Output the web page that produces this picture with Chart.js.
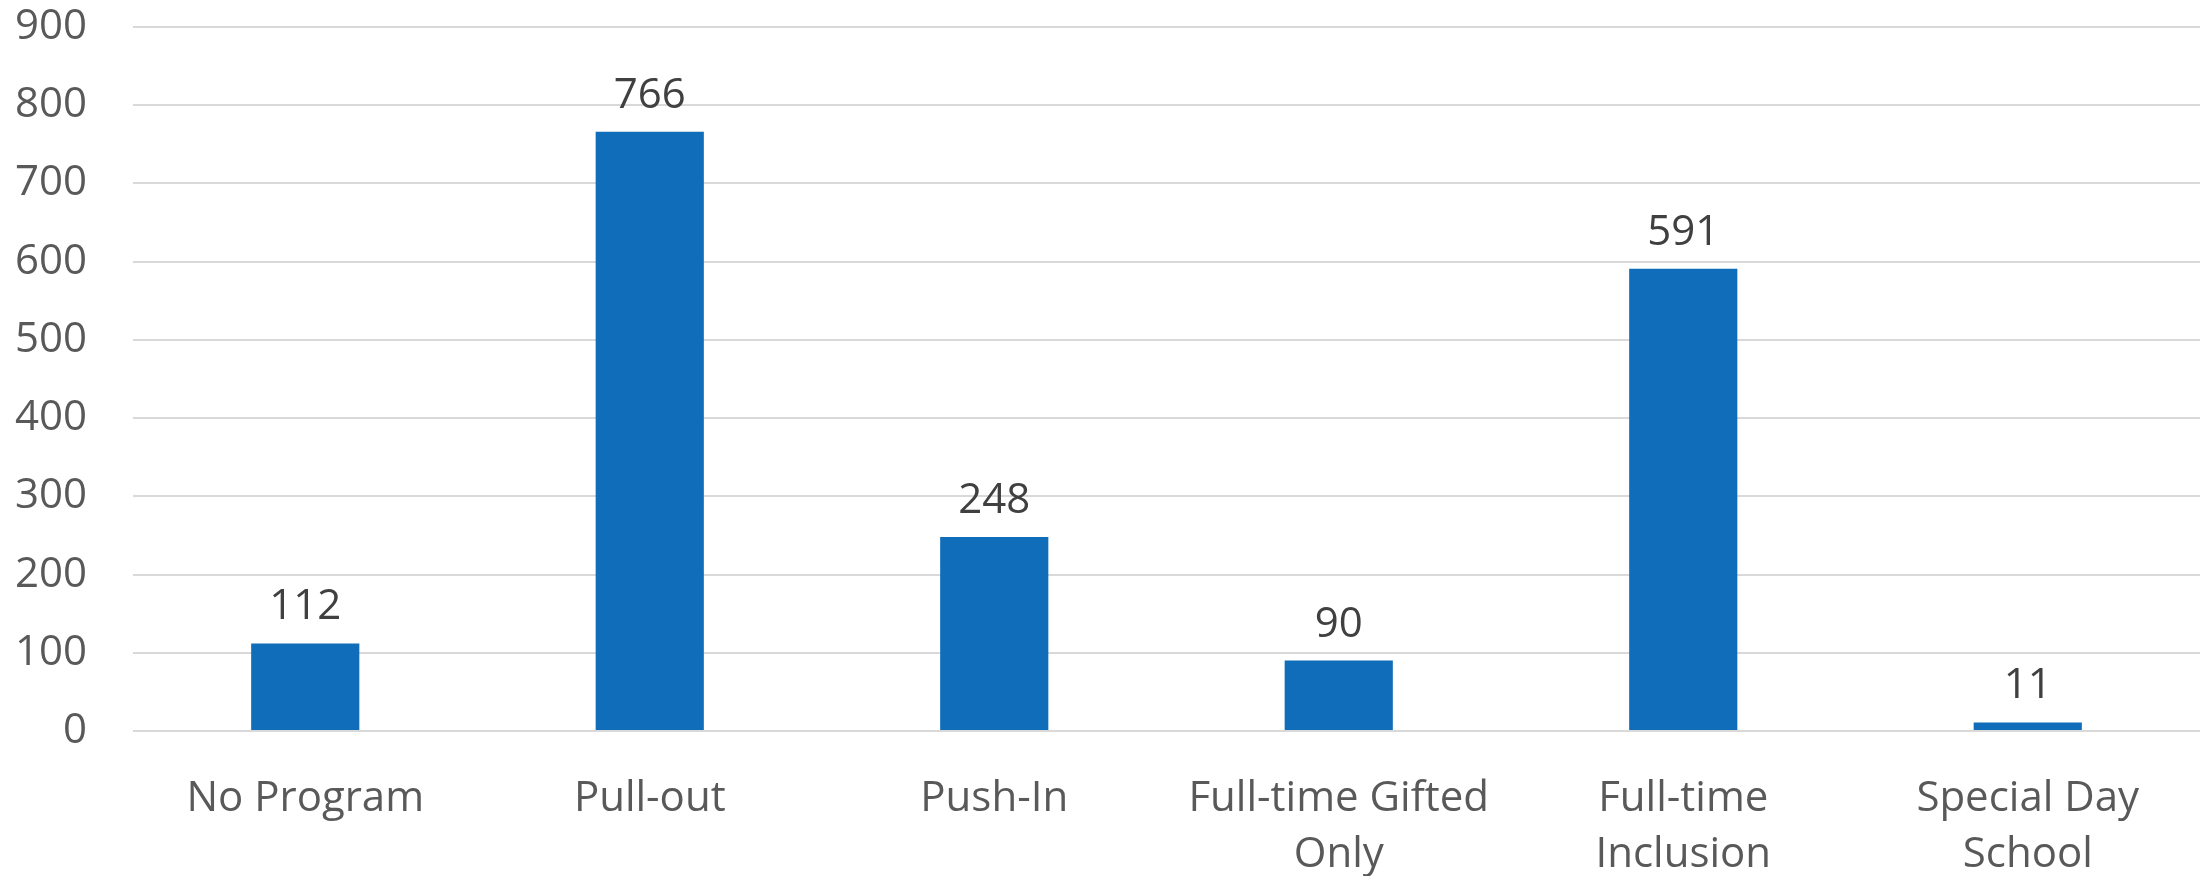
<!DOCTYPE html>
<html>
<head>
<meta charset="utf-8">
<script src="https://cdn.jsdelivr.net/npm/chart.js@4/dist/chart.umd.min.js"></script>
<style>
  html, body { margin: 0; padding: 0; background: #ffffff; }
  #wrap { width: 2204px; height: 876px; }
</style>
</head>
<body>
<div id="wrap"><canvas id="c" width="2204" height="876"></canvas></div>
<script>
const categories = [
  ["No Program"],
  ["Pull-out"],
  ["Push-In"],
  ["Full-time Gifted", "Only"],
  ["Full-time", "Inclusion"],
  ["Special Day", "School"]
];
const values = [112, 766, 248, 90, 591, 11];
const yTicks = [0, 100, 200, 300, 400, 500, 600, 700, 800, 900];

const FONT = "'Open Sans', 'Noto Sans', sans-serif";

const dataLabels = {
  id: 'dataLabels',
  afterDatasetsDraw(chart) {
    const ctx = chart.ctx;
    const meta = chart.getDatasetMeta(0);
    ctx.save();
    ctx.font = "42px " + FONT;
    ctx.fillStyle = '#404040';
    ctx.textAlign = 'center';
    ctx.textBaseline = 'alphabetic';
    meta.data.forEach((bar, i) => {
      ctx.fillText(String(values[i]), bar.x, bar.y - 24);
    });
    ctx.restore();
  }
};

new Chart(document.getElementById('c'), {
  type: 'bar',
  data: {
    labels: categories,
    datasets: [{
      data: values,
      backgroundColor: '#0F6DB9',
      borderWidth: 0,
      categoryPercentage: 1.0,
      barPercentage: 0.314
    }]
  },
  options: {
    responsive: false,
    animation: false,
    devicePixelRatio: 1,
    layout: { padding: { left: 0, right: 4, top: 27, bottom: 0 } },
    plugins: { legend: { display: false }, tooltip: { enabled: false } },
    scales: {
      x: {
        grid: { display: false, drawTicks: false },
        border: { display: false },
        ticks: {
          color: '#595959',
          font: { family: FONT, size: 42, lineHeight: 1.33 },
          padding: 40,
          maxRotation: 0,
          autoSkip: false
        },
        afterFit(scale) {
          scale.height = 145;
          scale.paddingLeft = 0; scale.paddingRight = 0;
          scale.paddingTop = 0; scale.paddingBottom = 0;
        }
      },
      y: {
        min: 0,
        max: 900,
        afterBuildTicks(scale) { scale.ticks = yTicks.map(v => ({ value: v })); },
        grid: { color: '#D9D9D9', lineWidth: 2, drawTicks: false },
        border: { display: false },
        ticks: {
          color: '#595959',
          font: { family: FONT, size: 42 },
          padding: 46
        },
        afterFit(scale) {
          scale.width = 133;
          scale.paddingTop = 0; scale.paddingBottom = 0;
          scale.paddingLeft = 0; scale.paddingRight = 0;
        }
      }
    }
  },
  plugins: [dataLabels]
});
</script>
</body>
</html>
